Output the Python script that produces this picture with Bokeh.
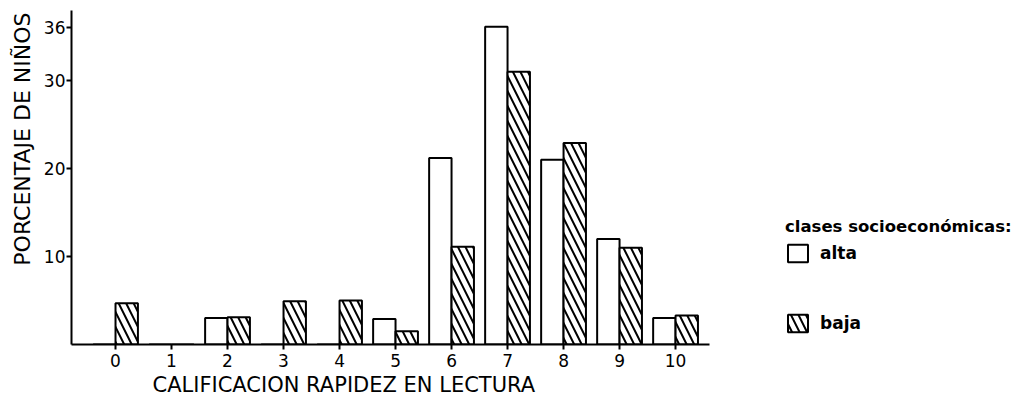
from bokeh.plotting import figure
from bokeh.models import (Range1d, FixedTicker, ColumnDataSource, Legend,
                          LegendItem, Title)
from bokeh.transform import dodge
from bokeh.embed import file_html
from bokeh.resources import INLINE

# ---- data ----
calificacion = [0, 1, 2, 3, 4, 5, 6, 7, 8, 9, 10]
alta = [0, 0, 3.0, 0, 0, 2.9, 21.2, 36.1, 21.0, 12.0, 3.0]
baja = [4.7, 0, 3.1, 4.9, 5.0, 1.5, 11.1, 31.0, 22.9, 11.0, 3.3]
y_ticks = [10, 20, 30, 36]
legend_title = "clases socioeconómicas:"
series_names = ["alta", "baja"]
x_title = "CALIFICACION RAPIDEZ EN LECTURA"
y_title = "PORCENTAJE DE NIÑOS"

FONT = "DejaVu Sans"

src = ColumnDataSource(dict(x=calificacion, alta=alta, baja=baja))

p = figure(width=1029, height=404,
           x_range=Range1d(-0.786, 16.32), y_range=Range1d(0, 37.95),
           output_backend="svg", toolbar_location=None,
           min_border_left=71, min_border_right=0, min_border_top=10,
           min_border_bottom=60)
p.outline_line_color = None
p.grid.visible = False
p.background_fill_color = "white"
p.border_fill_color = "white"

bw = 0.4
r_alta = p.vbar(x=dodge("x", -bw / 2, range=p.x_range), top="alta", width=bw,
                source=src, fill_color="white", line_color="black",
                line_width=2)
r_baja = p.vbar(x=dodge("x", bw / 2, range=p.x_range), top="baja", width=bw,
                source=src, fill_color="white", line_color="black",
                line_width=2, hatch_pattern="\\", hatch_color="black",
                hatch_weight=2, hatch_scale=15)

# axes
xa = p.xaxis[0]
xa.ticker = FixedTicker(ticks=calificacion)
xa.bounds = (-0.786, 10.6)
xa.axis_line_width = 2
xa.major_tick_line_width = 2
xa.major_tick_out = 5
xa.major_tick_in = 0
xa.minor_tick_line_color = None
xa.major_label_standoff = 4
xa.major_label_text_font = FONT
xa.major_label_text_font_size = "17px"
xa.major_label_text_color = "black"

ya = p.yaxis[0]
ya.ticker = FixedTicker(ticks=y_ticks)
ya.bounds = (0, 37.95)
ya.axis_line_width = 2
ya.major_tick_line_width = 2
ya.major_tick_out = 5
ya.major_tick_in = 0
ya.minor_tick_line_color = None
ya.major_label_standoff = 1
ya.major_label_text_font = FONT
ya.major_label_text_font_size = "17px"
ya.major_label_text_color = "black"

# axis titles
p.add_layout(Title(text=y_title, align="right", offset=2,
                   vertical_align="top",
                   text_font=FONT, text_font_size="22px",
                   text_font_style="normal", text_color="black",
                   standoff=8), "left")
p.add_layout(Title(text=x_title, align="left", offset=81,
                   vertical_align="bottom",
                   text_font=FONT, text_font_size="21px",
                   text_font_style="normal", text_color="black",
                   standoff=2), "below")

legend = Legend(items=[LegendItem(label=series_names[0], renderers=[r_alta]),
                       LegendItem(label=series_names[1], renderers=[r_baja])],
                title=legend_title, location=(714, 10),
                padding=0, margin=0, spacing=48,
                glyph_width=25, glyph_height=22, label_height=22,
                label_standoff=10, border_line_alpha=0,
                background_fill_alpha=0,
                title_text_font=FONT, title_text_font_size="16.5px",
                title_text_font_style="bold", title_standoff=6,
                title_text_color="black",
                label_text_font=FONT, label_text_font_size="17px",
                label_text_font_style="bold", label_text_color="black")
p.add_layout(legend)

open("out.html", "w").write(file_html(p, INLINE))
